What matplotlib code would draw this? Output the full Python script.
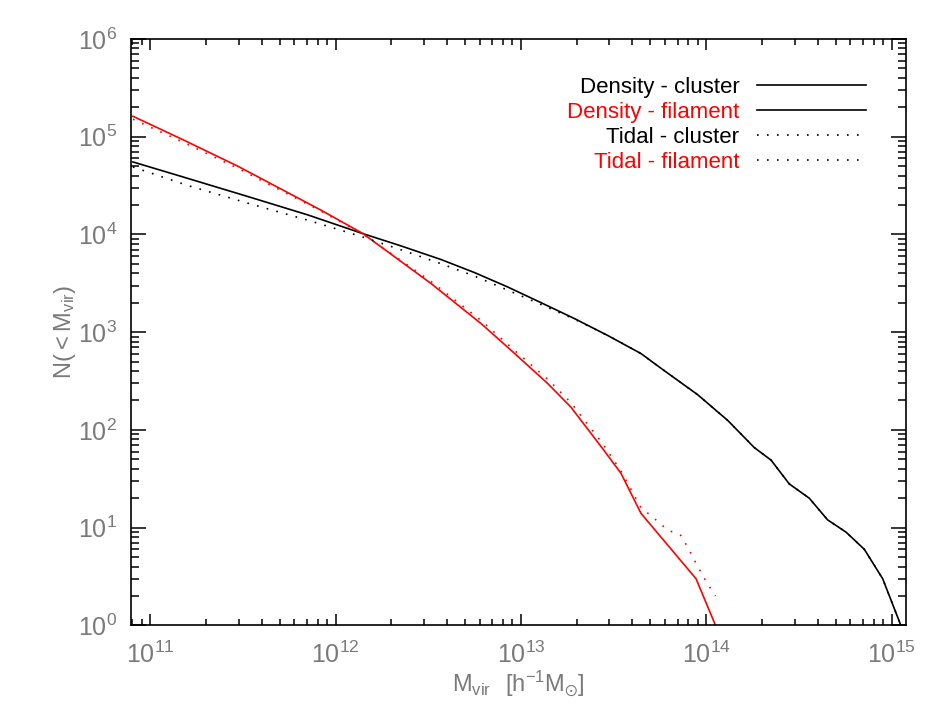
import numpy as np
import matplotlib
matplotlib.use('Agg')
import matplotlib.pyplot as plt
from matplotlib.lines import Line2D
from matplotlib.ticker import LogLocator, NullFormatter

plt.rcParams['font.family'] = ['Liberation Sans', 'DejaVu Sans']
plt.rcParams['mathtext.fontset'] = 'custom'
plt.rcParams['mathtext.rm'] = 'Liberation Sans'
plt.rcParams['mathtext.default'] = 'regular'

# log10 of mass and cumulative counts
dens_clu_logm = [10.907, 11.2, 11.534, 11.85, 12.145, 12.35, 12.57, 12.75, 12.929, 13.1,
                 13.289, 13.47, 13.648, 13.756, 13.954, 14.116, 14.259, 14.35, 14.448,
                 14.556, 14.655, 14.754, 14.853, 14.952, 15.05]
dens_clu_n = [55200, 37600, 24200, 15850, 10230, 7670, 5530, 4070, 2900, 2040,
              1377, 922, 604, 427, 229, 125, 66, 49, 28,
              20, 12, 9, 6, 3, 1]

tid_clu_logm = [10.907, 11.2, 11.534, 11.85, 12.145, 12.35, 12.57, 12.75, 12.929, 13.1,
                13.289, 13.47, 13.648, 13.756, 13.954, 14.116, 14.259, 14.35, 14.448,
                14.556, 14.655, 14.754, 14.853, 14.952, 15.05]
tid_clu_n = [49000, 31800, 20700, 14000, 9440, 7000, 5010, 3750, 2690, 1950,
             1360, 922, 604, 427, 229, 125, 66, 49, 28,
             20, 12, 9, 6, 3, 1]

dens_fil_logm = [10.907, 11.183, 11.473, 11.922, 12.147, 12.516, 12.785, 12.947, 13.145,
                 13.27, 13.442, 13.54, 13.648, 13.945, 14.05]
dens_fil_n = [162000, 92000, 49900, 17700, 10230, 3140, 1225, 653, 298,
              171, 64, 36, 14, 3, 1]

tid_fil_logm = [10.907, 11.183, 11.473, 11.922, 12.147, 12.516, 12.785, 12.947, 13.145,
                13.27, 13.442, 13.54, 13.648, 13.72, 13.79, 13.864, 13.9, 13.954, 14.0, 14.05]
tid_fil_n = [151000, 87000, 47500, 17300, 10100, 3300, 1320, 700, 330,
             190, 72, 38, 16, 12.4, 9.5, 8.3, 6.3, 4.0, 2.8, 2.0]

labels = ['Density - cluster', 'Density - filament', 'Tidal - cluster', 'Tidal - filament']
label_colors = ['black', 'red', 'black', 'red']
xticks = [1e11, 1e12, 1e13, 1e14, 1e15]
yticks = [1e0, 1e1, 1e2, 1e3, 1e4, 1e5, 1e6]

dot = (0, (1, 5))
gray = '#7a7a7a'

fig = plt.figure(figsize=(9.44, 7.09), dpi=100)
ax = fig.add_axes([0.139, 0.118, 0.821, 0.827])

ax.plot(10 ** np.array(dens_clu_logm), dens_clu_n, color='black', lw=1.2)
ax.plot(10 ** np.array(dens_fil_logm), dens_fil_n, color='red', lw=1.2)
ax.plot(10 ** np.array(tid_clu_logm), tid_clu_n, color='black', lw=1.2, ls=dot)
ax.plot(10 ** np.array(tid_fil_logm), tid_fil_n, color='red', lw=1.2, ls=dot)

ax.set_xscale('log')
ax.set_yscale('log')

ax.set_xticks(xticks)
ax.set_yticks(yticks)
ax.xaxis.set_minor_locator(LogLocator(base=10, subs=np.arange(2, 10), numticks=20))
ax.yaxis.set_minor_locator(LogLocator(base=10, subs=np.arange(2, 10), numticks=20))
ax.xaxis.set_minor_formatter(NullFormatter())
ax.yaxis.set_minor_formatter(NullFormatter())
ax.set_xlim(7.9e10, 1.2e15)
ax.set_ylim(1, 1e6)

ax.tick_params(which='both', direction='in', top=True, right=True, color='black',
               labelcolor=gray, labelsize=18, width=1.1)
ax.tick_params(axis='x', which='major', length=8, pad=12)
ax.tick_params(axis='x', which='minor', length=4)
ax.tick_params(axis='y', which='major', length=11, pad=10)
ax.tick_params(axis='y', which='minor', length=5.5)
for s in ax.spines.values():
    s.set_linewidth(1.2)

ax.set_xlabel(r'$M_{vir}\ \ [h^{-1}M_{\odot}]$', color=gray, fontsize=17, labelpad=0)
ax.set_ylabel(r'$N(<M_{vir})$', color=gray, fontsize=17, labelpad=0)

handles = [Line2D([], [], color='black', lw=1.2),
           Line2D([], [], color='black', lw=1.2),
           Line2D([], [], color='black', lw=1.2, ls=dot),
           Line2D([], [], color='black', lw=1.2, ls=dot)]
ax.legend(handles, labels, loc='upper right', bbox_to_anchor=(0.948, 0.935),
          frameon=False, markerfirst=False, labelcolor=label_colors, fontsize=16,
          handlelength=4.9, handletextpad=0.8, labelspacing=0.18,
          borderaxespad=0, borderpad=0)

fig.savefig('out.png', dpi=100)
